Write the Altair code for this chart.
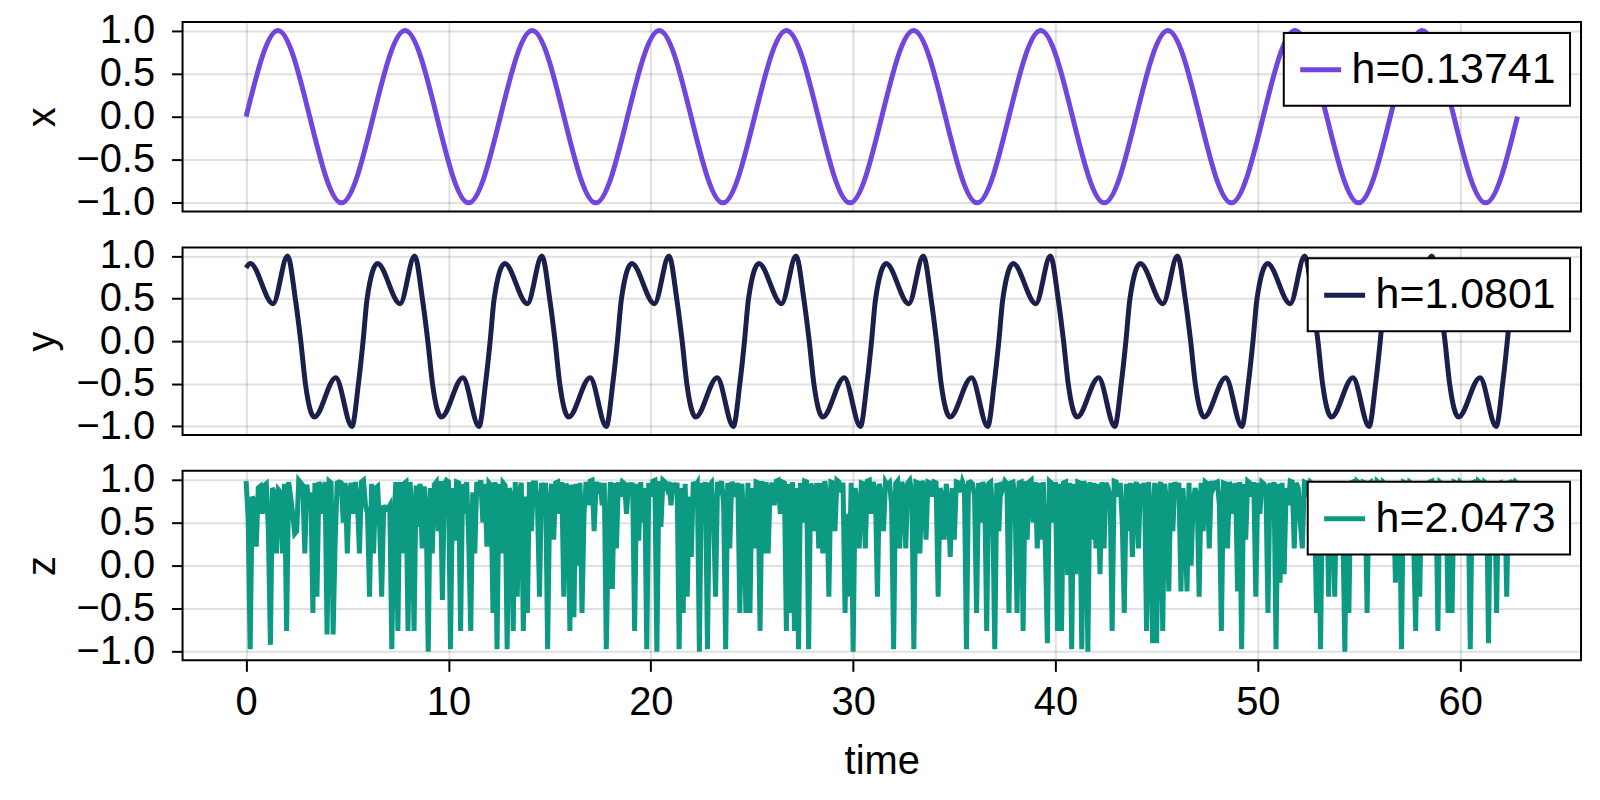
import altair as alt
import pandas as pd

FONT = "Liberation Sans"

# ---------------- data ----------------
X_TICKS = [0, 10, 20, 30, 40, 50, 60]
Y_TICKS = [-1.0, -0.5, 0.0, 0.5, 1.0]
X_DOMAIN = [-3.1416, 65.9734]
Y_DOMAIN = [-1.1, 1.1]

# panel "x": extrema of the smooth curve (time, value)
X_T = [0.0, 1.571, 4.712, 7.854, 10.996, 14.137, 17.279, 20.420, 23.562,
       26.704, 29.845, 32.987, 36.128, 39.270, 42.412, 45.553, 48.695,
       51.836, 54.978, 58.119, 61.261, 62.832]
X_V = [0.0, 1.0, -1.0, 1.0, -1.0, 1.0, -1.0, 1.0, -1.0, 1.0, -1.0,
       1.0, -1.0, 1.0, -1.0, 1.0, -1.0, 1.0, -1.0, 1.0, -1.0, 0.0]

# panel "y": key points of the curve (time, value)
Y_T = [0.00,
       0.21, 1.33, 2.05, 2.43, 2.70, 2.93, 3.37, 4.43, 5.23, 5.55, 5.78, 5.98,
       6.49, 7.61, 8.33, 8.71, 8.98, 9.21, 9.65, 10.71, 11.51, 11.83, 12.06, 12.26,
       12.78, 13.90, 14.62, 15.00, 15.27, 15.50, 15.94, 17.00, 17.80, 18.12, 18.35, 18.55,
       19.06, 20.18, 20.90, 21.28, 21.55, 21.78, 22.22, 23.28, 24.08, 24.40, 24.63, 24.83,
       25.34, 26.46, 27.18, 27.56, 27.83, 28.06, 28.50, 29.56, 30.36, 30.68, 30.91, 31.11,
       31.63, 32.75, 33.47, 33.85, 34.12, 34.35, 34.79, 35.85, 36.65, 36.97, 37.20, 37.40,
       37.91, 39.03, 39.75, 40.13, 40.40, 40.63, 41.07, 42.13, 42.93, 43.25, 43.48, 43.68,
       44.19, 45.31, 46.03, 46.41, 46.68, 46.91, 47.35, 48.41, 49.21, 49.53, 49.76, 49.96,
       50.48, 51.60, 52.32, 52.70, 52.97, 53.20, 53.64, 54.70, 55.50, 55.82, 56.05, 56.25,
       56.76, 57.88, 58.60, 58.98, 59.25, 59.48, 59.92, 60.98, 61.78, 62.10, 62.33, 62.53,
       62.83]
Y_V = [0.86,
       0.91, 0.44, 1.00, 0.50, 0.00, -0.50, -0.89, -0.43, -1.00, -0.50, 0.00, 0.50,
       0.91, 0.44, 1.00, 0.50, 0.00, -0.50, -0.89, -0.43, -1.00, -0.50, 0.00, 0.50,
       0.91, 0.44, 1.00, 0.50, 0.00, -0.50, -0.89, -0.43, -1.00, -0.50, 0.00, 0.50,
       0.91, 0.44, 1.00, 0.50, 0.00, -0.50, -0.89, -0.43, -1.00, -0.50, 0.00, 0.50,
       0.91, 0.44, 1.00, 0.50, 0.00, -0.50, -0.89, -0.43, -1.00, -0.50, 0.00, 0.50,
       0.91, 0.44, 1.00, 0.50, 0.00, -0.50, -0.89, -0.43, -1.00, -0.50, 0.00, 0.50,
       0.91, 0.44, 1.00, 0.50, 0.00, -0.50, -0.89, -0.43, -1.00, -0.50, 0.00, 0.50,
       0.91, 0.44, 1.00, 0.50, 0.00, -0.50, -0.89, -0.43, -1.00, -0.50, 0.00, 0.50,
       0.91, 0.44, 1.00, 0.50, 0.00, -0.50, -0.89, -0.43, -1.00, -0.50, 0.00, 0.50,
       0.91, 0.44, 1.00, 0.50, 0.00, -0.50, -0.89, -0.43, -1.00, -0.50, 0.00, 0.50,
       0.86]

# panel "z": samples every 0.1 time units starting at 0
Z_T0 = 0.0
Z_DT = 0.1
Z_V = [
    0.98, 0.55, -0.97, 0.80, 0.75, 0.22, 0.90, 0.92, 0.60, 0.93,
    0.95, 0.40, -0.92, 0.90, 0.85, 0.14, 0.88, 0.85, 0.14, 0.95,
    -0.76, 0.97, 0.80, 0.60, 0.37, 0.40, 0.99, 0.96, 0.93, 0.14,
    0.94, 0.70, 0.85, -0.55, 0.96, -0.36, 0.97, 0.90, 0.60, 0.97,
    -0.80, 0.98, 0.96, -0.80, 0.29, 0.96, 0.97, 0.96, 0.50, 0.96,
    0.14, 0.85, 0.96, 0.60, 0.97, 0.75, 0.14, 0.97, 0.99, 0.70,
    0.60, -0.36, 0.95, 0.14, 0.90, 0.92, 0.45, -0.36, 0.70, 0.65,
    0.66, 0.70, -0.97, 0.50, 0.97, -0.76, 0.97, 0.14, 0.95, 0.97,
    -0.76, 0.97, 0.60, -0.76, 0.93, 0.45, 0.95, 0.20, 0.92, 0.60,
    -1.00, 0.90, 0.14, 0.94, 0.97, 0.40, 0.98, -0.40, 0.95, 0.99,
    0.97, -0.97, 0.90, 0.29, 0.97, 0.96, -0.76, 0.95, 0.60, 0.97,
    0.29, -0.76, 0.85, 0.14, 0.97, 0.90, 0.99, 0.50, 0.95, 0.22,
    0.96, 0.93, -0.55, 0.97, -0.97, 0.95, 0.14, 0.96, 0.93, -0.97,
    0.90, 0.80, -0.76, 0.97, -0.36, 0.85, 0.96, -0.76, 0.80, -0.55,
    0.97, 0.40, 0.96, 0.96, 0.70, -0.36, 0.96, 0.80, 0.96, -0.97,
    0.70, 0.95, 0.30, 0.96, 0.97, 0.60, 0.97, -0.36, 0.95, 0.90,
    -0.76, 0.94, -0.60, 0.95, 0.00, 0.96, -0.55, 0.60, 0.97, 0.70,
    0.98, 0.99, 0.40, 0.97, 0.90, 0.96, 0.70, 0.96, -0.97, 0.30,
    0.97, -0.27, 0.96, 0.20, 0.97, 0.80, 0.97, 0.95, 0.60, 0.96,
    0.90, 0.96, -0.76, 0.95, 0.29, 0.97, 0.50, 0.90, -0.97, 0.96,
    0.80, 0.98, 0.99, -1.00, 0.98, 0.45, 0.99, 0.97, 0.90, 0.97,
    0.70, 0.96, 0.85, 0.96, -0.97, 0.90, -0.55, 0.95, -0.36, 0.80,
    0.10, 0.97, 0.92, 0.96, -1.00, 0.96, 0.80, 0.97, -0.97, 0.93,
    0.96, 0.60, -0.36, 0.97, 0.90, 0.98, 0.70, -0.97, 0.96, 0.20,
    0.97, 0.92, 0.80, 0.96, -0.55, 0.95, 0.50, -0.55, 0.96, -0.55,
    0.90, 0.20, 0.97, 0.96, -0.76, 0.98, 0.14, 0.97, 0.14, 0.90,
    0.96, 0.70, 0.98, 0.99, 0.60, 0.97, 0.96, -0.76, 0.95, -0.55,
    0.97, -0.76, 0.90, -0.97, 0.96, 0.50, 0.98, 0.97, -0.97, 0.95,
    0.90, 0.40, 0.96, 0.20, 0.96, 0.14, 0.98, 0.80, -0.36, 0.97,
    0.96, 0.40, 0.99, 0.97, 0.85, 0.96, -0.55, 0.60, -0.36, 0.96,
    -1.00, 0.90, 0.70, 0.20, 0.96, 0.95, 0.20, 0.98, 0.99, 0.60,
    0.97, 0.85, -0.36, 0.95, 0.80, 0.40, 0.97, 0.93, 0.96, 0.70,
    -0.97, 0.95, 0.98, 0.20, 0.97, 0.90, 0.20, 0.96, 0.99, 0.85,
    -0.97, 0.97, 0.96, 0.14, 0.98, 0.93, 0.30, 0.97, 0.96, 0.80,
    0.97, 0.96, -0.36, 0.90, 0.80, 0.30, 0.95, 0.70, 0.10, 0.90,
    0.30, 0.97, 0.96, 0.85, 0.97, 0.90, -0.97, 0.96, 0.97, 0.95,
    0.80, -0.55, 0.96, 0.50, 0.97, 0.90, -0.76, 0.95, 0.97, 0.60,
    -0.97, 0.96, 0.40, 0.97, 0.90, 0.98, 0.95, -0.55, 0.96, 0.97,
    0.80, -0.55, 0.96, 0.97, -0.76, 0.98, 0.30, 0.97, 0.99, 0.50,
    0.97, 0.20, 0.96, 0.30, 0.97, 0.20, -0.90, 0.98, 0.96, 0.50,
    0.97, -0.76, 0.95, -0.76, 0.96, 0.97, -0.11, 0.96, -0.97, 0.95,
    -0.10, 0.97, 0.96, -0.97, 0.98, 0.90, -1.00, 0.97, 0.30, 0.96,
    0.20, 0.95, -0.10, 0.97, 0.20, 0.96, 0.90, 0.80, -0.76, 0.98,
    0.97, 0.80, 0.96, 0.50, -0.55, 0.95, 0.40, 0.96, 0.10, 0.90,
    0.97, 0.20, 0.95, 0.80, 0.96, -0.76, 0.97, 0.60, -0.90, 0.96,
    -0.90, 0.90, 0.97, -0.76, 0.95, 0.70, -0.30, 0.96, 0.40, 0.97,
    0.85, 0.96, -0.30, 0.90, 0.50, -0.30, 0.96, 0.00, 0.70, 0.90,
    0.80, -0.36, 0.96, 0.40, 0.97, 0.95, 0.20, 0.98, 0.90, 0.96,
    0.97, 0.70, -0.76, 0.96, 0.95, 0.20, 0.97, 0.90, 0.60, 0.96,
    -0.30, 0.97, -0.97, 0.95, 0.30, 0.98, 0.96, 0.80, 0.97, -0.36,
    0.96, 0.60, 0.97, 0.95, 0.90, -0.55, 0.96, 0.80, 0.97, -0.97,
    0.95, -0.20, 0.96, -0.10, 0.90, 0.70, 0.98, 0.97, 0.20, 0.96,
    0.90, 0.50, 0.20, 0.97, 0.96, 0.80, 0.97, 0.95, 0.70, -0.55,
    0.96, -0.97, 0.97, 0.30, 0.95, -0.36, 0.96, 0.80, -0.36, 0.97,
    0.90, 0.96, 0.50, -1.00, 0.95, -0.55, 0.96, 0.97, 0.30, 0.98,
    0.96, 0.80, 0.97, 0.96, -0.55, 0.95, 0.97, 0.90, 0.40, 0.98,
    0.96, 0.70, 0.97, 0.95, 0.90, 0.97, 0.60, 0.96, -0.20, 0.95,
    0.90, -0.97, 0.97, 0.96, 0.80, 0.97, 0.95, 0.30, -0.76, 0.96,
    -0.36, 0.97, 0.90, 0.96, 0.70, 0.97, 0.98, 0.50, 0.96, -0.76,
    0.97, 0.95, 0.80, 0.96, -0.55, 0.90, -0.55, 0.97, 0.96, 0.60,
    0.97, 0.95, 0.90, 0.96, 0.70, -0.97, 0.96, 0.97, 0.50, 0.98,
    0.96, 0.80, 0.97, 0.95, -0.90, 0.96, 0.90, 0.97, -0.55, 0.95,
    0.96, 0.80, 0.97, -0.36, 0.96, 0.97, 0.95, 0.98, 0.96,
]
Z_T = [round(Z_T0 + Z_DT * i, 2) for i in range(len(Z_V))]

LABELS = ["h=0.13741", "h=1.0801", "h=2.0473"]
COLORS = ["#7345df", "#1b1f4b", "#0d9a82"]
YTITLES = ["x", "y", "z"]

LINE_W = 5


def panel(t, v, label, color, ytitle, interp, height, bottom):
    df = pd.DataFrame({"time": t, "value": v, "series": [label] * len(t)})
    if bottom:
        xaxis = alt.Axis(values=X_TICKS, format="d", title="time",
                         grid=True, ticks=True, labels=True)
    else:
        xaxis = alt.Axis(values=X_TICKS, grid=True, ticks=False,
                         labels=False, title="")
    return alt.Chart(df).mark_line(
        strokeWidth=LINE_W, interpolate=interp, clip=True
    ).encode(
        x=alt.X("time:Q", scale=alt.Scale(domain=X_DOMAIN, nice=False, zero=False),
                axis=xaxis),
        y=alt.Y("value:Q", scale=alt.Scale(domain=Y_DOMAIN, nice=False, zero=False),
                axis=alt.Axis(values=Y_TICKS, format=".1f", title=ytitle)),
        color=alt.Color("series:N",
                        scale=alt.Scale(domain=[label], range=[color]),
                        legend=alt.Legend(title=None, orient="top-right", offset=11)),
    ).properties(width=1402, height=height)


p1 = panel(X_T, X_V, LABELS[0], COLORS[0], YTITLES[0], "monotone", 190, False)
p2 = panel(Y_T, Y_V, LABELS[1], COLORS[1], YTITLES[1], "monotone", 188, False)
p3 = panel(Z_T, Z_V, LABELS[2], COLORS[2], YTITLES[2], "linear", 190, True)

chart = alt.vconcat(p1, p2, p3, spacing=36, bounds="flush").resolve_scale(
    color="independent"
).resolve_legend(
    color="independent"
).properties(
    padding={"left": 14, "top": 0, "right": 10, "bottom": 5},
    background="white",
).configure_view(
    stroke="black", strokeWidth=2
).configure_axis(
    domain=False,
    tickColor="black", tickWidth=2, tickSize=11,
    labelFont=FONT, labelFontSize=40, labelColor="black",
    labelFlush=False,
    titleFont=FONT, titleFontSize=40, titleFontWeight="normal",
    titleColor="black",
    gridColor="black", gridOpacity=0.12, gridWidth=2,
).configure_axisX(
    labelPadding=11, titlePadding=19
).configure_axisY(
    labelPadding=17, titlePadding=13
).configure_legend(
    fillColor="white", strokeColor="black", strokeWidth=2, padding=14,
    cornerRadius=0,
    labelFont=FONT, labelFontSize=43, labelColor="black", labelLimit=500,
    labelOffset=8,
    symbolType="stroke", symbolSize=1681, symbolStrokeWidth=LINE_W,
)

chart.save("out.html", embed_options={"renderer": "svg", "actions": False})
